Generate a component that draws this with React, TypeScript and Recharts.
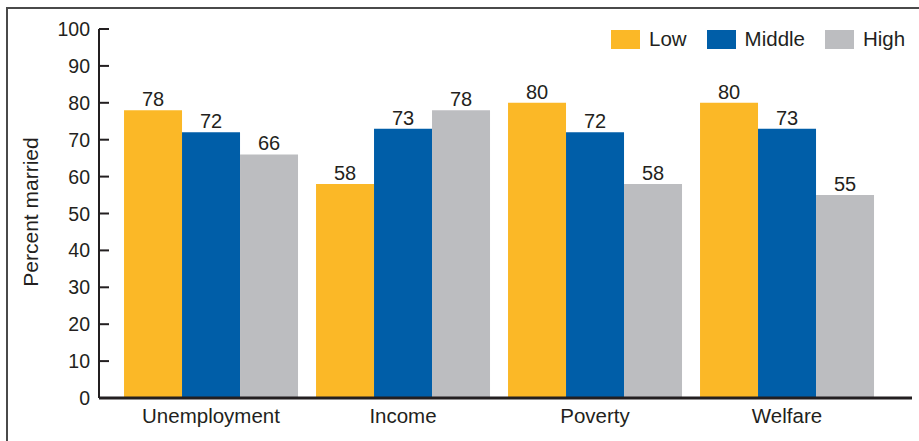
import { Bar, BarChart, LabelList, XAxis, YAxis } from "recharts";

const CATEGORIES = ["Unemployment", "Income", "Poverty", "Welfare"];
const LOW = [78, 58, 80, 80];
const MIDDLE = [72, 73, 72, 73];
const HIGH = [66, 78, 58, 55];
const Y_TICKS = [0, 10, 20, 30, 40, 50, 60, 70, 80, 90, 100];

const SERIES = [
  { key: "low", name: "Low", color: "#FBB827" },
  { key: "middle", name: "Middle", color: "#005EA8" },
  { key: "high", name: "High", color: "#BCBDC0" },
];

const FONT = "'Liberation Sans', Arial, Helvetica, sans-serif";
const INK = "#231F20";

const data = CATEGORIES.map((name, i) => ({
  name,
  low: LOW[i],
  middle: MIDDLE[i],
  high: HIGH[i],
}));

function YTick(props: any) {
  const { x, y, payload } = props;
  return (
    <g>
      <line x1={x} x2={x + 10} y1={y} y2={y} stroke={INK} strokeWidth={2} />
      <text
        x={x - 9}
        y={y}
        dy="0.36em"
        textAnchor="end"
        fontSize={19.5}
        fontFamily={FONT}
        fill={INK}
      >
        {payload.value}
      </text>
    </g>
  );
}

function YLabel() {
  return (
    <text
      x={38}
      y={212}
      transform="rotate(-90 38 212)"
      textAnchor="middle"
      fontSize={21}
      fontFamily={FONT}
      fill={INK}
    >
      Percent married
    </text>
  );
}

function Legend() {
  return (
    <div
      style={{
        position: "absolute",
        left: 611,
        top: 27,
        display: "flex",
        alignItems: "center",
        fontFamily: FONT,
        fontSize: 20.5,
        color: INK,
      }}
    >
      {SERIES.map((s) => (
        <div key={s.key} style={{ display: "flex", alignItems: "center", marginRight: 20 }}>
          <span style={{ width: 29, height: 19, background: s.color, display: "inline-block", marginRight: 9 }} />
          <span>{s.name}</span>
        </div>
      ))}
    </div>
  );
}

export default function App() {
  return (
    <div style={{ position: "absolute", left: 0, top: 0, width: 919, height: 441, background: "#fff" }}>
      <div
        style={{
          position: "absolute",
          left: 6,
          top: 7,
          right: 0,
          bottom: 0,
          borderTop: "2px solid #4a4a4a",
          borderLeft: "2px solid #4a4a4a",
        }}
      />
      <BarChart
        width={919}
        height={441}
        data={data}
        margin={{ top: 29, right: 7, bottom: 13, left: 39 }}
        barCategoryGap="4.7%"
        barGap={0}
        style={{ position: "absolute", left: 0, top: 0 }}
      >
        <XAxis
          dataKey="name"
          height={30}
          tickSize={0}
          tickMargin={10}
          axisLine={{ stroke: INK, strokeWidth: 3 }}
          tick={{ fontSize: 20.5, fontFamily: FONT, fill: INK }}
          padding={{ left: 16, right: 29 }}
          interval={0}
        />
        <YAxis
          width={60}
          domain={[0, 100]}
          ticks={Y_TICKS}
          tickSize={0}
          tickMargin={0}
          tick={<YTick />}
          axisLine={{ stroke: INK, strokeWidth: 2 }}
          label={{ content: () => <YLabel /> }}
          interval={0}
        />
        {SERIES.map((s) => (
          <Bar key={s.key} dataKey={s.key} name={s.name} fill={s.color} isAnimationActive={false}>
            <LabelList
              dataKey={s.key}
              position="top"
              offset={4}
              fontSize={20}
              fontFamily={FONT}
              fill={INK}
            />
          </Bar>
        ))}
      </BarChart>
      <Legend />
    </div>
  );
}
